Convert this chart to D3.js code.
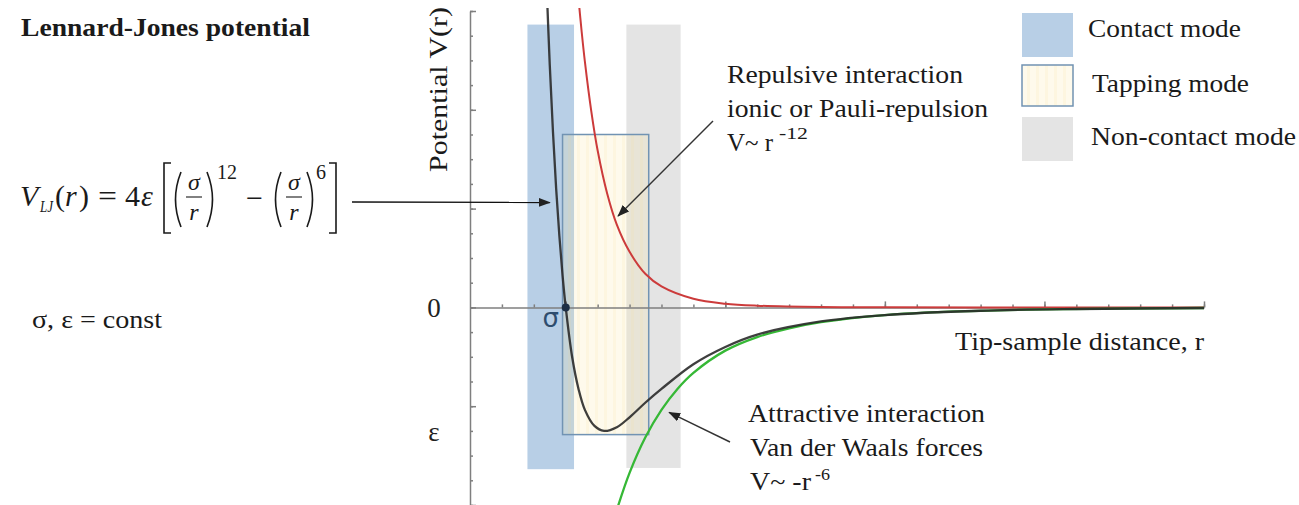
<!DOCTYPE html>
<html>
<head>
<meta charset="utf-8">
<script src="https://cdn.jsdelivr.net/npm/d3@7"></script>
<style>
  body { margin: 0; background: #fff; }
  svg { display: block; }
  text { font-family: 'Liberation Serif', 'Times New Roman', Times, serif; }
  text.sans { font-family: 'DejaVu Sans', sans-serif; }
</style>
</head>
<body>
<svg id="chart"></svg>
<script>
// values (r in units of sigma, V in units of epsilon)
const rLJ = [0.94, 0.95, 0.96, 0.97, 0.98, 0.99, 1.00, 1.02, 1.04, 1.06, 1.09, 1.12, 1.16, 1.20, 1.25, 1.30, 1.40, 1.50, 1.60, 1.80, 2.00, 2.30, 2.60, 3.00];
const vLJ = [2.61, 1.96, 1.42, 0.96, 0.58, 0.26, 0, -0.40, -0.66, -0.83, -0.96, -1.00, -0.97, -0.89, -0.77, -0.66, -0.46, -0.32, -0.22, -0.114, -0.062, -0.027, -0.013, -0.005];

const rRep = [1.04, 1.05, 1.06, 1.08, 1.10, 1.13, 1.16, 1.20, 1.25, 1.30, 1.40, 1.50, 1.60, 1.80, 2.00, 2.50, 3.00];
const vRep = [2.50, 2.23, 1.99, 1.59, 1.27, 0.92, 0.67, 0.45, 0.27, 0.17, 0.07, 0.03, 0.014, 0.003, 0.001, 0, 0];

const rAtt = [1.16, 1.20, 1.25, 1.30, 1.35, 1.40, 1.50, 1.60, 1.70, 1.80, 2.00, 2.20, 2.50, 3.00];
const vAtt = [-1.64, -1.34, -1.05, -0.83, -0.66, -0.53, -0.35, -0.24, -0.17, -0.12, -0.063, -0.035, -0.016, -0.005];

// AFM operating-mode bands
const modeNames  = ['Contact mode', 'Tapping mode', 'Non-contact mode'];
const modeRStart = [0.88, 0.99, 1.19];
const modeREnd   = [1.026, 1.26, 1.36];
const modeVTop   = [2.29, 1.40, 2.29];
const modeVBot   = [-1.31, -1.03, -1.30];

const xTicksMinor = [0.8, 0.9, 1.0, 1.1, 1.2, 1.3, 1.4, 1.5, 1.6, 1.7, 1.8, 1.9, 2.0, 2.1, 2.2, 2.3, 2.4, 2.5, 2.6, 2.7, 2.8, 2.9, 3.0];
const xTicksMajor = [1.0, 1.5, 2.0, 2.5, 3.0];
const yTicksMinor = [-1.6, -1.4, -1.2, -1.0, -0.8, -0.6, -0.4, -0.2, 0, 0.2, 0.4, 0.6, 0.8, 1.0, 1.2, 1.4, 1.6, 1.8, 2.0, 2.2, 2.4];
const yTicksMajor = [-1.6, -0.8, 0, 0.8, 1.6, 2.4];
const yLabels = [{v: 0, t: '0'}, {v: -1, t: 'ε'}];

const W = 1299, H = 505;

const svg = d3.select('#chart').attr('width', W).attr('height', H);

const x = d3.scaleLinear().domain([0.7, 3.0]).range([470, 1204]);
const y = d3.scaleLinear().domain([-1.6, 2.4]).range([505, 11]);

const defs = svg.append('defs');
const pat = defs.append('pattern')
    .attr('id', 'tapfill')
    .attr('patternUnits', 'userSpaceOnUse')
    .attr('width', 9).attr('height', 10);
pat.append('rect').attr('width', 9).attr('height', 10).attr('fill', 'rgba(248,226,150,0.18)');
pat.append('rect').attr('x', 1).attr('width', 3).attr('height', 10).attr('fill', 'rgba(240,212,130,0.12)');

defs.append('clipPath').attr('id', 'plotclip')
  .append('rect').attr('x', 470).attr('y', 8).attr('width', 740).attr('height', 500);

defs.append('marker')
    .attr('id', 'arrow')
    .attr('markerUnits', 'userSpaceOnUse')
    .attr('markerWidth', 12).attr('markerHeight', 10)
    .attr('refX', 11).attr('refY', 4.5)
    .attr('orient', 'auto')
  .append('path')
    .attr('d', 'M0,0 L12,4.5 L0,9 Z')
    .attr('fill', '#222');

// mode bands (plain ones first, tapping overlay on top)
const bandFill = ['#b8cfe6', null, '#e4e4e4'];
[2, 0].forEach(i => {
  svg.append('rect')
    .attr('x', x(modeRStart[i]))
    .attr('y', y(modeVTop[i]))
    .attr('width', x(modeREnd[i]) - x(modeRStart[i]))
    .attr('height', y(modeVBot[i]) - y(modeVTop[i]))
    .attr('fill', bandFill[i]);
});
svg.append('rect')
  .attr('x', x(modeRStart[1]))
  .attr('y', y(modeVTop[1]))
  .attr('width', x(modeREnd[1]) - x(modeRStart[1]))
  .attr('height', y(modeVBot[1]) - y(modeVTop[1]))
  .attr('fill', 'url(#tapfill)')
  .attr('stroke', '#7193b3')
  .attr('stroke-width', 1.5);

// axes
function styleAxis(g) {
  g.selectAll('path, line').attr('stroke', '#7f7f7f').attr('stroke-width', 1.5);
}
svg.append('g')
  .attr('transform', 'translate(0,' + y(0) + ')')
  .call(d3.axisTop(x).tickValues(xTicksMinor).tickSize(3).tickSizeOuter(0).tickFormat(''))
  .call(styleAxis);
svg.append('g')
  .attr('transform', 'translate(0,' + y(0) + ')')
  .call(d3.axisTop(x).tickValues(xTicksMajor).tickSize(6).tickSizeOuter(0).tickFormat(''))
  .call(styleAxis)
  .call(g => g.select('.domain').remove());
svg.append('g')
  .attr('transform', 'translate(' + x(0.7) + ',0)')
  .call(d3.axisRight(y).tickValues(yTicksMinor).tickSize(3).tickSizeOuter(0).tickFormat(''))
  .call(styleAxis);
svg.append('g')
  .attr('transform', 'translate(' + x(0.7) + ',0)')
  .call(d3.axisRight(y).tickValues(yTicksMajor).tickSize(6).tickSizeOuter(0).tickFormat(''))
  .call(styleAxis)
  .call(g => g.select('.domain').remove());

// curves
const line = d3.line()
  .x(d => x(d[0]))
  .y(d => y(d[1]))
  .curve(d3.curveCatmullRom.alpha(0.5));

const curves = svg.append('g').attr('clip-path', 'url(#plotclip)');
curves.append('path')
  .attr('d', line(d3.zip(rRep, vRep)))
  .attr('fill', 'none').attr('stroke', '#cc3b3b').attr('stroke-width', 2);
curves.append('path')
  .attr('d', line(d3.zip(rAtt, vAtt)))
  .attr('fill', 'none').attr('stroke', '#36b836').attr('stroke-width', 2.3);
curves.append('path')
  .attr('d', line(d3.zip(rLJ, vLJ)))
  .attr('fill', 'none').attr('stroke', '#2a2a2a').attr('stroke-width', 2.3).attr('stroke-opacity', 0.9);

svg.append('circle')
  .attr('cx', x(1)).attr('cy', y(0)).attr('r', 4)
  .attr('fill', '#1d2f45');

// text helper
function label(g, s, px, py, w, opts) {
  opts = opts || {};
  const t = g.append('text')
    .attr('x', px).attr('y', py)
    .attr('class', opts.cls || null)
    .style('font-size', (opts.size || 26) + 'px')
    .style('font-weight', opts.weight || 'normal')
    .style('font-style', opts.style || 'normal')
    .attr('text-anchor', opts.anchor || 'start')
    .attr('fill', opts.fill || '#1a1a1a')
    .text(s);
  if (w) t.attr('textLength', w).attr('lengthAdjust', 'spacingAndGlyphs');
  return t;
}

// axis labels
yLabels.forEach(d => {
  label(svg, d.t, 434, y(d.v) + 10, null, {size: 27, anchor: 'middle', fill: '#222'});
});
label(svg, 'σ', x(1) - 15, y(0) + 20, null, {size: 26, anchor: 'middle', cls: 'sans', fill: '#2e4d6e'});

svg.append('text')
  .attr('transform', 'translate(447,172) rotate(-90)')
  .style('font-size', '26px')
  .attr('fill', '#1a1a1a')
  .attr('textLength', 165)
  .attr('lengthAdjust', 'spacingAndGlyphs')
  .text('Potential V(r)');

label(svg, 'Tip-sample distance, r', 955, 350, 249);

// title and formula
label(svg, 'Lennard-Jones potential', 21, 36, 289, {weight: 'bold', size: 25});
label(svg, 'σ, ε = const', 32, 328, 130, {size: 26});

const f = svg.append('g').attr('fill', '#1a1a1a');
label(f, 'V', 20, 206, null, {style: 'italic', size: 30});
label(f, 'LJ', 40, 212, 13, {style: 'italic', size: 16});
label(f, '(', 55, 206, null, {size: 30});
label(f, 'r', 65, 206, null, {style: 'italic', size: 30});
label(f, ')', 79, 206, null, {size: 30});
label(f, '=', 98, 206, 19, {size: 30});
label(f, '4', 125, 206, null, {size: 30});
label(f, 'ε', 141, 206, null, {style: 'italic', size: 30});
label(f, '−', 246, 208, 17, {size: 30});
label(f, '12', 217, 179, 20, {size: 20});
label(f, '6', 316, 179, null, {size: 20});

const fs = svg.append('g').attr('fill', 'none').attr('stroke', '#1a1a1a').attr('stroke-width', 1.6);
fs.append('path').attr('d', 'M171,163 H164 V233 H171');
fs.append('path').attr('d', 'M329,163 H336 V233 H329');
[[181, 207], [281, 307]].forEach(p => {
  fs.append('path').attr('d', 'M' + p[0] + ',172 Q' + (p[0] - 11) + ',199.5 ' + p[0] + ',227');
  fs.append('path').attr('d', 'M' + p[1] + ',172 Q' + (p[1] + 11) + ',199.5 ' + p[1] + ',227');
  const cx = (p[0] + p[1]) / 2;
  fs.append('line').attr('x1', cx - 8).attr('x2', cx + 8).attr('y1', 197).attr('y2', 197).attr('stroke-width', 1.1);
  label(f, 'σ', cx, 190, null, {style: 'italic', size: 24, anchor: 'middle'});
  label(f, 'r', cx, 220, null, {style: 'italic', size: 24, anchor: 'middle'});
});

// annotations
const ann = svg.append('g');
label(ann, 'Repulsive interaction', 727, 83, 236);
label(ann, 'ionic or Pauli-repulsion', 727, 117, 261);
label(ann, 'V~ r', 727, 151, 46);
label(ann, '-12', 779, 139, 29, {size: 16});

label(ann, 'Attractive interaction', 748, 422, 237);
label(ann, 'Van der Waals forces', 750, 456, 233);
label(ann, 'V~ -r', 750, 490, 61);
label(ann, '-6', 815, 480, 15, {size: 16});

// arrows: tail in page pixels, tip on the curve (data coords)
const arrows = [
  {x1: 352, y1: 202, r: 0.95, v: 0.85, c: '#111'},
  {x1: 713, y1: 121, r: 1.164, v: 0.74, c: '#333'},
  {x1: 730, y1: 442, r: 1.324, v: -0.85, c: '#333'}
];
svg.append('g').selectAll('line')
  .data(arrows)
  .join('line')
    .attr('x1', d => d.x1).attr('y1', d => d.y1)
    .attr('x2', d => x(d.r)).attr('y2', d => y(d.v))
    .attr('stroke', d => d.c)
    .attr('stroke-width', 1.4)
    .attr('marker-end', 'url(#arrow)');

// legend
const lg = svg.append('g');
const legendFill = ['#b8cfe6', 'url(#tapfill)', '#e4e4e4'];
const legendTextX = [1088, 1092, 1091];
const legendTextW = [153, 157, 205];
modeNames.forEach((name, i) => {
  const top = 13 + i * 52;
  if (i === 1) {
    lg.append('rect').attr('x', 1022).attr('y', top).attr('width', 51).attr('height', 42).attr('fill', '#fff');
  }
  lg.append('rect')
    .attr('x', 1022).attr('y', top)
    .attr('width', 51).attr('height', i === 1 ? 41 : 44)
    .attr('fill', legendFill[i])
    .attr('stroke', i === 1 ? '#7193b3' : 'none')
    .attr('stroke-width', 1.5);
  label(lg, name, legendTextX[i], top + 24 + (i === 1 ? 1 : 0) + i * 2, legendTextW[i]);
});
</script>
</body>
</html>
